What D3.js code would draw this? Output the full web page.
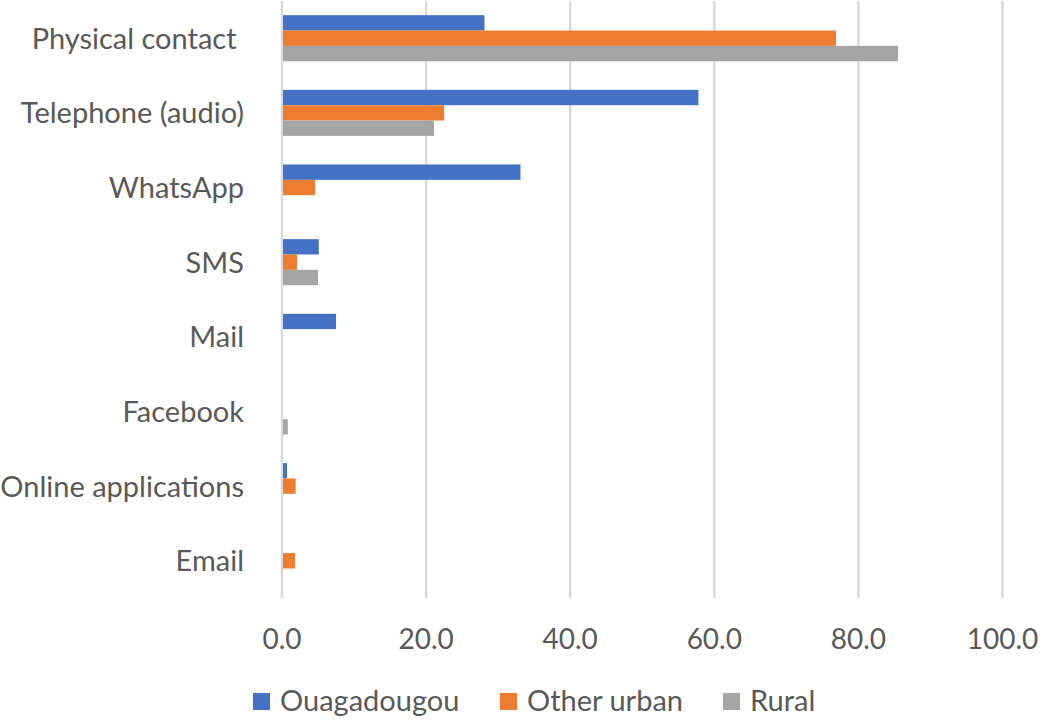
<!DOCTYPE html>
<html>
<head>
<meta charset="utf-8">
<script src="https://cdn.jsdelivr.net/npm/d3@7"></script>
<style>
  body { margin: 0; background: #fff; }
  text { font-family: Lato, "Open Sans", sans-serif; fill: #595959; }
  .cat { white-space: pre; }
</style>
</head>
<body>
<div id="chart"></div>
<script>
// categories top to bottom (trailing space mirrors the original label)
var categories = ["Physical contact ", "Telephone (audio)", "WhatsApp", "SMS", "Mail", "Facebook", "Online applications", "Email"];
var series = ["Ouagadougou", "Other urban", "Rural"];
var ouaga = [28.1, 57.8, 33.1, 5.1, 7.5, 0, 0.7, 0];
var otherUrban = [76.9, 22.5, 4.6, 2.1, 0, 0, 1.9, 1.8];
var rural = [85.5, 21.1, 0, 5.0, 0, 0.8, 0, 0];
var ticks = [0, 20, 40, 60, 80, 100];
var colors = ["#4472C4", "#ED7D31", "#A5A5A5"];

var width = 1043, height = 721;
var values = [ouaga, otherUrban, rural];

var svg = d3.select("#chart").append("svg")
  .attr("width", width)
  .attr("height", height);

var x = d3.scaleLinear().domain([0, 100]).range([282, 1002.5]);

var y = d3.scaleBand()
  .domain(categories)
  .range([1, 598])
  .paddingInner(0.383)
  .paddingOuter(0.19);

var ys = d3.scaleBand().domain(series).range([0, y.bandwidth()]);

// gridlines
svg.append("g")
  .selectAll("line")
  .data(ticks)
  .enter()
  .append("line")
  .attr("x1", (d) => x(d))
  .attr("x2", (d) => x(d))
  .attr("y1", 1)
  .attr("y2", 598)
  .attr("stroke", "#D9D9D9")
  .attr("stroke-width", 2.5);

// bars
var rows = [];
categories.forEach(function (c, i) {
  series.forEach(function (s, j) {
    rows.push({ cat: c, ser: s, v: values[j][i], color: colors[j] });
  });
});

svg.append("g")
  .selectAll("rect")
  .data(rows.filter((d) => d.v > 0))
  .enter()
  .append("rect")
  .attr("x", x(0) + 1)
  .attr("y", (d) => y(d.cat) + ys(d.ser))
  .attr("width", (d) => x(d.v) - x(0) - 1)
  .attr("height", ys.bandwidth())
  .attr("fill", (d) => d.color);

// category labels
svg.append("g")
  .selectAll("text")
  .data(categories)
  .enter()
  .append("text")
  .attr("class", "cat")
  .attr("x", 244)
  .attr("y", (d) => y(d) + y.bandwidth() / 2 + 10.5)
  .attr("text-anchor", "end")
  .attr("font-size", "29px")
  .text((d) => d);

// x tick labels
svg.append("g")
  .selectAll("text")
  .data(ticks)
  .enter()
  .append("text")
  .attr("x", (d) => x(d))
  .attr("y", 649)
  .attr("text-anchor", "middle")
  .attr("font-size", "28px")
  .text((d) => d3.format(".1f")(d));

// legend
var legendX = [253, 500, 723];
var legend = svg.append("g")
  .selectAll("g")
  .data(series)
  .enter()
  .append("g")
  .attr("transform", (d, i) => "translate(" + legendX[i] + ",711)");

legend.append("rect")
  .attr("x", 0)
  .attr("y", -18)
  .attr("width", 17)
  .attr("height", 17)
  .attr("fill", (d, i) => colors[i]);

legend.append("text")
  .attr("x", 27)
  .attr("y", 0)
  .attr("font-size", "29px")
  .text((d) => d);
</script>
</body>
</html>
